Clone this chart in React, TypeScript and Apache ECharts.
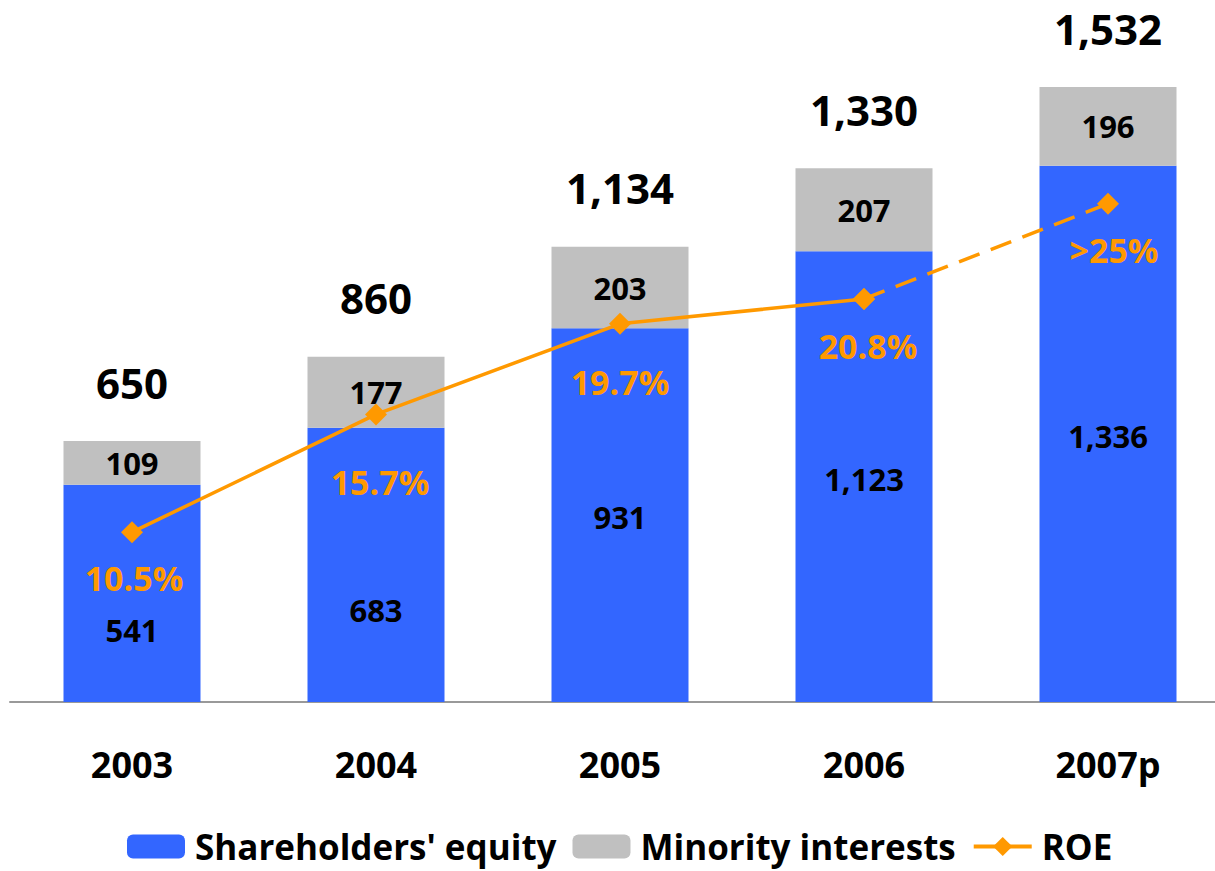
import React, { useEffect, useRef } from 'react';
import * as echarts from 'echarts';

const categories = ['2003', '2004', '2005', '2006', '2007p'];
const shareholdersEquity = [541, 683, 931, 1123, 1336];
const minorityInterests = [109, 177, 203, 207, 196];
const roe = [10.5, 15.7, 19.7, 20.8, 25];
const roeLabels = ['10.5%', '15.7%', '19.7%', '20.8%', '>25%'];
const totals = shareholdersEquity.map((v, i) => v + minorityInterests[i]);

// label placement tweaks (styles, not data)
const equityLabelOffsets = [[0, 37], [0, 45], [0, 2], [0, 2], [0, 2]];
const roeLabelOffsets = [[2, 46], [4, 68], [0, 58], [4, 47], [6, 46]];

const FONT = 'Open Sans';
const BLUE = '#3366FF';
const GRAY = '#C0C0C0';
const ORANGE = '#FF9900';

const fmt = (n: number) => n.toLocaleString('en-US');

export default function App() {
  const ref = useRef<HTMLDivElement>(null);
  useEffect(() => {
    if (!ref.current) return;
    const chart = echarts.init(ref.current, undefined, { renderer: 'svg' });
    const roeLabelStyle = (i: number) => ({
      show: true,
      position: 'inside',
      offset: roeLabelOffsets[i],
      formatter: roeLabels[i],
      color: ORANGE,
      fontSize: 34,
      fontWeight: 'bold',
      fontFamily: FONT,
    });
    const valueLabel = {
      show: true,
      position: 'inside',
      color: '#000',
      fontSize: 31,
      fontWeight: 'bold',
      fontFamily: FONT,
      formatter: (p: any) => fmt(p.value),
    };
    chart.setOption({
      animation: false,
      textStyle: { fontFamily: FONT },
      grid: { left: 10, right: 0, top: 0, height: 702 },
      legend: {
        data: [
          { name: 'Shareholders\' equity' },
          { name: 'Minority interests' },
          { name: 'ROE', lineStyle: { width: 4 } },
        ],
        left: 127,
        top: 829,
        padding: 0,
        itemWidth: 58,
        itemHeight: 24,
        itemGap: 16,
        textStyle: {
          fontSize: 35,
          fontWeight: 'bold',
          color: '#000',
          fontFamily: FONT,
          padding: [0, 0, 0, 5],
        },
      },
      xAxis: {
        type: 'category',
        data: categories,
        axisLine: { lineStyle: { color: '#999', width: 2 } },
        axisTick: { show: false },
        axisLabel: { fontSize: 36, fontWeight: 'bold', color: '#000', margin: 44, fontFamily: FONT },
      },
      yAxis: [
        { type: 'value', min: 0, max: 1749, show: false },
        { type: 'value', min: 3, max: 34, show: false },
      ],
      series: [
        {
          name: 'Shareholders\' equity',
          type: 'bar',
          stack: 'a',
          barWidth: 137,
          itemStyle: { color: BLUE },
          data: shareholdersEquity.map((v, i) => ({
            value: v,
            label: { offset: equityLabelOffsets[i] },
          })),
          label: valueLabel,
        },
        {
          name: 'Minority interests',
          type: 'bar',
          stack: 'a',
          barWidth: 137,
          itemStyle: { color: GRAY },
          data: minorityInterests,
          label: valueLabel,
        },
        {
          name: 'Total',
          type: 'bar',
          barWidth: 137,
          barGap: '-100%',
          itemStyle: { color: 'transparent' },
          data: totals,
          label: {
            show: true,
            position: 'top',
            distance: 38,
            color: '#000',
            fontSize: 42,
            fontWeight: 'bold',
            fontFamily: FONT,
            formatter: (p: any) => fmt(p.value),
          },
        },
        {
          name: 'ROE',
          type: 'line',
          yAxisIndex: 1,
          symbol: 'diamond',
          symbolSize: 22,
          lineStyle: { color: ORANGE, width: 3.5 },
          itemStyle: { color: ORANGE },
          z: 5,
          data: roe.map((v, i) => (i < 4 ? { value: v, label: roeLabelStyle(i) } : '-')),
        },
        {
          name: 'ROE',
          type: 'line',
          yAxisIndex: 1,
          symbol: 'diamond',
          symbolSize: 22,
          lineStyle: { color: ORANGE, width: 3.5, type: [22, 12] },
          itemStyle: { color: ORANGE },
          z: 5,
          data: roe.map((v, i) =>
            i < 3 ? '-' : i === 4 ? { value: v, label: roeLabelStyle(i) } : { value: v }
          ),
        },
      ],
    });
    return () => chart.dispose();
  }, []);
  return (
    <div
      style={{
        position: 'fixed',
        left: 0,
        top: 0,
        width: 1215,
        height: 871,
        overflow: 'hidden',
        background: '#fff',
      }}
    >
      <div ref={ref} style={{ width: 1230, height: 871 }} />
    </div>
  );
}
